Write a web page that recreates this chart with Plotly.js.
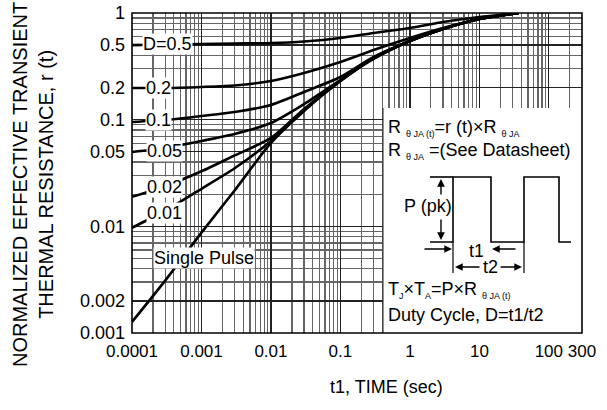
<!DOCTYPE html>
<html>
<head>
<meta charset="utf-8">
<script src="https://cdn.plot.ly/plotly-3.0.1.min.js"></script>
<style>html,body{margin:0;padding:0;background:#fff;}#chart{width:607px;height:410px;}</style>
</head>
<body>
<div id="chart"></div>
<script>
// ---- data ----
const timeSec = [1e-4, 3e-4, 1e-3, 3e-3, 0.01, 0.03, 0.1, 0.3, 1, 3, 10, 37];
const rD05   = [0.50, 0.507, 0.512, 0.518, 0.523, 0.541, 0.583, 0.65, 0.724, 0.823, 0.917, 1.0];
const rD02   = [0.198, 0.198, 0.2025, 0.209, 0.2305, 0.274, 0.347, 0.45, 0.583, 0.723, 0.878, 1.0];
const rD01   = [0.0952, 0.0993, 0.1083, 0.118, 0.1374, 0.182, 0.251, 0.387, 0.547, 0.708, 0.878, 1.0];
const rD005  = [0.0498, 0.0543, 0.0632, 0.0734, 0.0931, 0.140, 0.2355, 0.379, 0.547, 0.708, 0.878, 1.0];
const rD002  = [0.0189, 0.0238, 0.0328, 0.0462, 0.0674, 0.126, 0.233, 0.379, 0.547, 0.708, 0.878, 1.0];
const rD001  = [0.0097, 0.0140, 0.0225, 0.0350, 0.0632, 0.1233, 0.2305, 0.375, 0.547, 0.708, 0.878, 1.0];
const rSingle= [0.00127, 0.0031, 0.00873, 0.0217, 0.0605, 0.1207, 0.2305, 0.371, 0.547, 0.708, 0.878, 1.0];

const curveLabels = ['D=0.5', '0.2', '0.1', '0.05', '0.02', '0.01', 'Single Pulse'];
const labelT = [1.4e-4, 1.55e-4, 1.55e-4, 1.6e-4, 1.6e-4, 1.6e-4, 2.0e-4];
const labelR = [0.512, 0.198, 0.0993, 0.0509, 0.0234, 0.01335, 0.00506];

const xTickVals = [1e-4, 1e-3, 0.01, 0.1, 1, 10, 100, 300];
const xTickText = ['0.0001', '0.001', '0.01', '0.1', '1', '10', '100', '300'];
const yTickVals = [1, 0.5, 0.2, 0.1, 0.05, 0.01, 0.002, 0.001];
const yTickText = ['1', '0.5', '0.2', '0.1', '0.05', '0.01', '0.002', '0.001'];

// grid (1..9 per decade)
const digits = [1,2,3,4,5,6,7,8,9];
const xMinor = []; for (let e = -4; e <= 2; e++) digits.forEach(d => xMinor.push(d * Math.pow(10, e)));
const yMinor = []; for (let e = -3; e <= -1; e++) digits.forEach(d => yMinor.push(d * Math.pow(10, e)));

const FONT = 'Liberation Sans, Arial, sans-serif';
const series = [rD05, rD02, rD01, rD005, rD002, rD001, rSingle];
const traces = series.map((ys, i) => ({
  x: timeSec, y: ys, type: 'scatter', mode: 'lines', name: curveLabels[i],
  line: {color: '#000', width: 2.6, shape: 'spline', smoothing: 0.7},
  showlegend: false, hoverinfo: 'skip'
}));

// pixel helpers for the inset (plot area: x 132..582, y 13..333)
const PX = x => (x - 132) / 450;
const PY = y => (333 - y) / 320;

const annotations = curveLabels.map((txt, i) => ({
  x: Math.log10(labelT[i]), y: Math.log10(labelR[i]), xref: 'x', yref: 'y',
  text: txt, showarrow: false, xanchor: 'left', yanchor: 'middle',
  bgcolor: '#fff', borderpad: 0, font: {family: FONT, size: 18, color: '#000'}
}));

const sub = s => '<sub><span style="font-size:9px">' + s + '</span></sub>';
const insetText = [
  ['R ' + sub('θ JA (t)') + '=r (t)×R ' + sub('θ JA'), 387, 128, 'left'],
  ['R ' + sub('θ JA') + ' =(See Datasheet)', 387, 151, 'left'],
  ['P (pk)', 428, 206, 'center'],
  ['t1', 476, 251, 'center'],
  ['t2', 490, 267, 'center'],
  ['T' + sub('J') + '×T' + sub('A') + '=P×R ' + sub('θ JA (t)'), 387, 290, 'left'],
  ['Duty Cycle, D=t1/t2', 387, 315, 'left']
];
insetText.forEach(a => annotations.push({
  x: PX(a[1]), y: PY(a[2]), xref: 'paper', yref: 'paper', text: a[0], showarrow: false,
  xanchor: a[3], yanchor: 'middle', bgcolor: a[0] === 't2' ? '#fff' : 'rgba(0,0,0,0)', borderpad: 0,
  font: {family: FONT, size: 18, color: '#000'}
}));

// arrows [headX, headY, tailX, tailY]
const arrows = [
  [441, 179, 441, 196], [441, 240, 441, 218],
  [452, 249, 423, 249], [492, 249, 517, 249],
  [455, 267, 481, 267], [522, 267, 499, 267]
];
arrows.forEach(a => annotations.push({
  x: PX(a[0]), y: PY(a[1]), xref: 'paper', yref: 'paper', text: '', showarrow: true,
  ax: a[2] - a[0], ay: a[3] - a[1], axref: 'pixel', ayref: 'pixel',
  arrowhead: 2, arrowsize: 1.1, arrowwidth: 1.4, arrowcolor: '#000'
}));

// axis titles
annotations.push({
  x: PX(33), y: PY(185), xref: 'paper', yref: 'paper', textangle: -90,
  text: 'NORMALIZED EFFECTIVE TRANSIENT<br>THERMAL RESISTANCE, r (t)', showarrow: false,
  xanchor: 'center', yanchor: 'middle', font: {family: FONT, size: 20, color: '#000'}
});
annotations.push({
  x: PX(386), y: PY(387), xref: 'paper', yref: 'paper', text: 't1, TIME (sec)', showarrow: false,
  xanchor: 'center', yanchor: 'middle', font: {family: FONT, size: 18, color: '#000'}
});

const pulsePath = ['M', PX(430), PY(242), 'L', PX(453), PY(242), 'L', PX(453), PY(177), 'L', PX(491), PY(177),
  'L', PX(491), PY(242), 'L', PX(524), PY(242), 'L', PX(524), PY(177), 'L', PX(559), PY(177),
  'L', PX(559), PY(242), 'L', PX(571), PY(242)].join(' ');

const shapes = [
  {type: 'rect', xref: 'paper', yref: 'paper', x0: PX(383), x1: 1, y0: 0, y1: PY(108), fillcolor: '#fff', line: {width: 0}, layer: 'above'},
  {type: 'line', xref: 'paper', yref: 'paper', x0: PX(383), x1: PX(383), y0: 0, y1: PY(108), line: {color: '#222', width: 1}, layer: 'above'},
  {type: 'path', xref: 'paper', yref: 'paper', path: pulsePath, line: {color: '#000', width: 1.6}, layer: 'above'},
  {type: 'line', xref: 'paper', yref: 'paper', x0: PX(430), x1: PX(453), y0: PY(177), y1: PY(177), line: {color: '#000', width: 1.6}, layer: 'above'},
  {type: 'line', xref: 'paper', yref: 'paper', x0: PX(453), x1: PX(453), y0: PY(242), y1: PY(273), line: {color: '#000', width: 1.2}, layer: 'above'},
  {type: 'line', xref: 'paper', yref: 'paper', x0: PX(524), x1: PX(524), y0: PY(242), y1: PY(273), line: {color: '#000', width: 1.2}, layer: 'above'},
  {type: 'rect', xref: 'paper', yref: 'paper', x0: 0, x1: 1, y0: 0, y1: 1, line: {color: '#000', width: 1.6}, layer: 'above'}
];

const layout = {
  width: 607, height: 410,
  margin: {l: 132, r: 25, t: 13, b: 77},
  paper_bgcolor: '#fff', plot_bgcolor: '#fff',
  font: {family: FONT, color: '#000'},
  showlegend: false,
  xaxis: {
    type: 'log', range: [-4, Math.log10(300)], tickmode: 'array', tickvals: xTickVals, ticktext: xTickText,
    ticks: '', ticklabelstandoff: 6, tickfont: {family: FONT, size: 17, color: '#000'},
    showgrid: true, gridcolor: '#222', gridwidth: 1.3, zeroline: false, showline: false,
    minor: {tickmode: 'array', tickvals: xMinor, showgrid: true, gridcolor: '#666', gridwidth: 1.3, ticks: ''}
  },
  yaxis: {
    type: 'log', range: [-3, 0], tickmode: 'array', tickvals: yTickVals, ticktext: yTickText,
    ticks: '', ticklabelstandoff: 6, tickfont: {family: FONT, size: 18, color: '#000'},
    showgrid: true, gridcolor: '#222', gridwidth: 1.3, zeroline: false, showline: false,
    minor: {tickmode: 'array', tickvals: yMinor, showgrid: true, gridcolor: '#666', gridwidth: 1.3, ticks: ''}
  },
  annotations: annotations,
  shapes: shapes
};

Plotly.newPlot('chart', traces, layout, {staticPlot: true, displayModeBar: false});
</script>
</body>
</html>
